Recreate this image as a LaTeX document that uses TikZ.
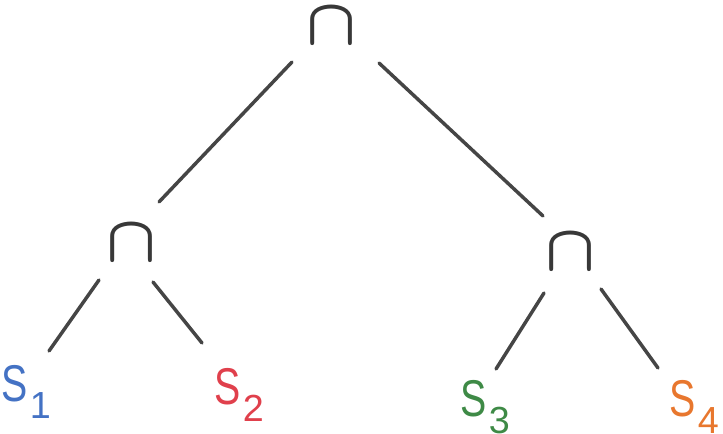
\documentclass[tikz,border=0pt]{standalone}
\usepackage{fontspec}
\setmainfont{Liberation Sans}
\definecolor{opgray}{HTML}{383838}
\definecolor{edgegray}{HTML}{454545}
\definecolor{leafblue}{HTML}{4472C4}
\definecolor{leafred}{HTML}{E0404C}
\definecolor{leafgreen}{HTML}{3E8A46}
\definecolor{leaforange}{HTML}{E8772E}
% narrow capital S followed by a lowered index
\newcommand\leafname[1]{\scalebox{0.76}[1]{S}\hspace{2pt}\raisebox{-12.75pt}{\fontsize{28.3}{30}\selectfont #1}}
\newcommand\opcap{\scalebox{4.9}{\boldmath$\cap$}}
\begin{document}
\begin{tikzpicture}[x=0.75pt,y=-0.75pt,
  op/.style={inner sep=0pt, outer sep=0pt, text=opgray},
  leaf/.style={inner sep=0pt, outer sep=0pt, font=\fontsize{38.8}{42}\selectfont},
  edge/.style={draw=edgegray, line width=2.6pt, line cap=round}]
\useasboundingbox (0,0) rectangle (723,434);

% intersection operators
\node[op] (T) at (331.5,26) {\opcap};
\node[op] (L) at (131.5,243) {\opcap};
\node[op] (R) at (571,252.5) {\opcap};

% leaves
\node[leaf, text=leafblue]   (S1) at (26,392)  {\leafname{1}};
\node[leaf, text=leafred]    (S2) at (239,395) {\leafname{2}};
\node[leaf, text=leafgreen]  (S3) at (485,407) {\leafname{3}};
\node[leaf, text=leaforange] (S4) at (694,407) {\leafname{4}};

% tree edges
\draw[edge] ([shift={(-39.5,36)}]T.center) -- ([shift={(27.5,-41)}]L.center);
\draw[edge] ([shift={(47.5,37)}]T.center) -- ([shift={(-28,-36.5)}]R.center);
\draw[edge] ([shift={(-32.5,37)}]L.center) -- ([shift={(23,-41)}]S1.center);
\draw[edge] ([shift={(21.5,39)}]L.center) -- ([shift={(-37,-52)}]S2.center);
\draw[edge] ([shift={(-27,40.5)}]R.center) -- ([shift={(11,-38)}]S3.center);
\draw[edge] ([shift={(30,36.5)}]R.center) -- ([shift={(-36,-39)}]S4.center);
\end{tikzpicture}
\end{document}
